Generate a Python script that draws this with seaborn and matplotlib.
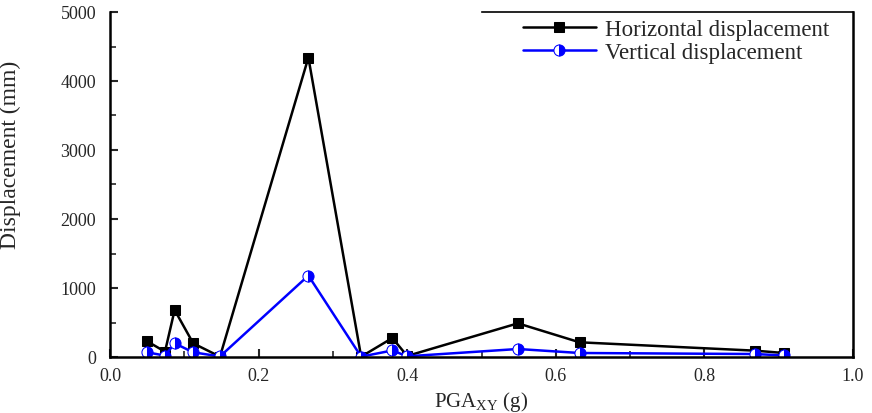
import matplotlib
matplotlib.use("Agg")
import matplotlib.pyplot as plt
from matplotlib.ticker import MultipleLocator
import seaborn as sns
import pandas as pd

pga = [0.050, 0.074, 0.087, 0.112, 0.148, 0.267, 0.338, 0.380, 0.400, 0.549, 0.632, 0.868, 0.907]
horizontal = [228, 77, 681, 198, 5, 4340, 5, 275, 15, 488, 213, 92, 58]
vertical = [68, 20, 198, 68, 8, 1180, 5, 95, 10, 116, 58, 43, 22]
series_names = ["Horizontal displacement", "Vertical displacement"]

sns.set_style("ticks")
plt.rcParams["font.family"] = ["Liberation Serif", "DejaVu Serif"]
plt.rcParams["mathtext.fontset"] = "custom"
plt.rcParams["mathtext.rm"] = "Liberation Serif"
plt.rcParams["mathtext.it"] = "Liberation Serif"

fig = plt.figure(figsize=(8.72, 4.14), dpi=100)
ax = fig.add_axes([110 / 872, 1 - 358 / 414, (853 - 110) / 872, (358 - 13) / 414])

df = pd.DataFrame({"pga": pga, "h": horizontal, "v": vertical})

sns.lineplot(data=df, x="pga", y="h", ax=ax, color="black", linewidth=1.8,
             marker="s", markersize=7, markeredgecolor="black",
             markerfacecolor="black", sort=False, estimator=None,
             label=series_names[0])
sns.lineplot(data=df, x="pga", y="v", ax=ax, color="#0000ff", linewidth=1.8,
             marker="o", markersize=8, fillstyle="right",
             markeredgecolor="#0000ff", markerfacecolor="#0000ff",
             markerfacecoloralt="white", sort=False, estimator=None,
             label=series_names[1])

ax.set_xlim(0, 1.0)
ax.set_ylim(0, 5000)
ax.xaxis.set_major_locator(MultipleLocator(0.2))
ax.xaxis.set_minor_locator(MultipleLocator(0.1))
ax.yaxis.set_major_locator(MultipleLocator(1000))
ax.yaxis.set_minor_locator(MultipleLocator(500))
ax.xaxis.set_major_formatter(matplotlib.ticker.FormatStrFormatter("%.1f"))
ax.tick_params(which="major", direction="in", length=6, width=1.5, labelsize=13,
               top=False, right=False)
ax.tick_params(axis="y", which="major", pad=10)
ax.tick_params(axis="x", which="major", pad=7)
ax.tick_params(which="minor", direction="in", length=4, width=1.2,
               top=False, right=False)

for s in ["left", "bottom", "right"]:
    ax.spines[s].set_linewidth(1.8)
    ax.spines[s].set_color("black")
ax.spines["top"].set_linewidth(1.2)
ax.spines["top"].set_color("black")
ax.spines["top"].set_bounds(0.5, 1.0)

ax.set_xlabel("PGA$_{\\mathrm{XY}}$ (g)", fontsize=15)
ax.set_ylabel("Displacement (mm)", fontsize=17)
ax.yaxis.set_label_coords(-0.12, 0.59)
ax.xaxis.labelpad = 4

leg = ax.legend(loc="upper right", bbox_to_anchor=(0.99, 1.025), frameon=False,
                fontsize=16.5, handlelength=3.2, handletextpad=0.4,
                labelspacing=0.05, borderaxespad=0.3)

fig.savefig("out.png", dpi=100)
